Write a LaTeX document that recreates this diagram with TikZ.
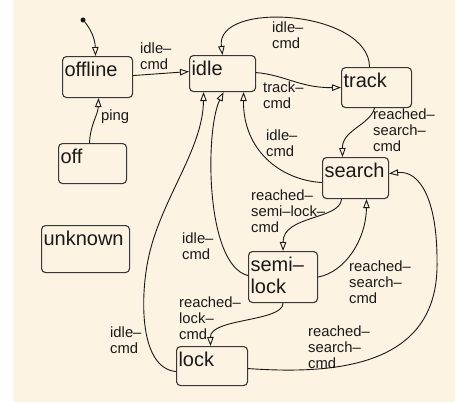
\documentclass[tikz,border=0pt]{standalone}
\usepackage{fontspec}
\setmainfont{Liberation Sans}
\usetikzlibrary{arrows.meta}
\definecolor{cream}{RGB}{253,243,226}
\definecolor{ink}{RGB}{25,25,25}
\definecolor{frame}{RGB}{55,55,55}
\newcommand\statefont{\fontsize{20}{22}\selectfont}
\newcommand\lblfont{\fontsize{14.8}{16}\selectfont}
\newcommand\stacklines[1]{\begin{tabular}[t]{@{}l@{}}#1\end{tabular}}
\begin{document}
\begin{tikzpicture}[x=1pt,y=-1pt,
  state/.style={draw=frame, line width=1.1pt, rounded corners=4pt, fill=cream,
    anchor=north west, inner xsep=2pt, inner ysep=0pt, text height=19.5pt,
    font=\statefont, text=ink},
  lbl/.style={anchor=base west, inner sep=0pt, font=\lblfont, text=ink},
  arr/.style={draw=ink, line width=0.9pt,
    -{Triangle[open, length=9pt, width=6.5pt, line width=0.9pt]}},
  initdot/.style={circle, fill=ink, inner sep=0pt, minimum size=5pt}]

% page and canvas
\useasboundingbox (0,0) rectangle (455,402);
\fill[white] (0,0) rectangle (455,402);
\fill[cream] (13,0) rectangle (455,402);

% states
\node[state, text depth=21.5pt] (offline) at (62,56)  {\makebox[66pt][l]{offline}};
\node[state, text depth=16.5pt] (idle)    at (189,55) {\makebox[62pt][l]{idle}};
\node[state, text depth=20.5pt] (track)   at (341,67) {\makebox[66pt][l]{track}};
\node[state, text depth=21.5pt] (search)  at (322,157){\makebox[62pt][l]{search}};
\node[state, text depth=20.5pt] (off)     at (58,143) {\makebox[64pt][l]{off}};
\node[state, text depth=27.5pt] (unknown) at (41,225) {\makebox[84pt][l]{unknown}};
\node[state, text depth=31.5pt] (semi)    at (248,251){\makebox[65pt][l]{\stacklines{semi–\\lock}}};
\node[state, text depth=19.5pt] (lock)    at (176,346){\makebox[67pt][l]{lock}};

% initial pseudo-state
\node[initdot] (init) at (83,20) {};

% transitions
\draw[arr] (init) .. controls (90,28) and (95,38) .. ([xshift=-2pt]offline.north);
\draw[arr] ([xshift=-3pt]off.north) .. controls (90,125) and (98,115) .. ([xshift=1pt]offline.south);
\draw[arr] ([yshift=1.5pt]offline.east) -- ([yshift=2pt]idle.west);
\draw[arr] ([yshift=1pt]idle.east) .. controls (285,75) and (300,88) .. (track.west);
\draw[arr] ([xshift=-7pt]track.north) .. controls (369,10) and (215,0) .. (idle.north);
\draw[arr] ([xshift=-2pt]track.south) .. controls (370,125) and (342,130) .. ([xshift=-13pt]search.north);
\draw[arr] ([yshift=-4.5pt]search.west) .. controls (280,180) and (243,150) .. ([xshift=21pt]idle.south);
\draw[arr] ([xshift=-14pt]search.south) .. controls (340,220) and (283,215) .. (semi.north);
\draw[arr] (semi.east) .. controls (345,272) and (366,240) .. ([xshift=11pt]search.south);
\draw[arr] ([yshift=1.5pt]semi.west) .. controls (205,265) and (205,130) .. ([xshift=1pt]idle.south);
\draw[arr] (semi.south) .. controls (283,322) and (210,318) .. ([xshift=-1.5pt]lock.north);
\draw[arr] ([yshift=-5.5pt]lock.west) .. controls (140,368) and (140,300) .. (148,260)
           .. controls (160,200) and (203,150) .. ([xshift=-19pt]idle.south);
\draw[arr] ([yshift=-2.5pt]lock.east) .. controls (340,375) and (440,365) .. (437,260)
           .. controls (437,200) and (420,170) .. ([yshift=4.5pt]search.east);

% transition labels
\node[lbl] (l-offidle)  at (140,53)  {\stacklines{idle–\\cmd}};
\node[lbl] (l-ping)     at (101,120) {ping};
\node[lbl] (l-trackidle) at (272,32) {\stacklines{idle–\\cmd}};
\node[lbl] (l-track)    at (263,92)  {\stacklines{track–\\cmd}};
\node[lbl] (l-tsearch)  at (373,119) {\stacklines{reached–\\search–\\cmd}};
\node[lbl] (l-sidle)    at (266,140) {\stacklines{idle–\\cmd}};
\node[lbl] (l-semi)     at (251,200) {\stacklines{reached–\\semi–lock–\\cmd}};
\node[lbl] (l-ssearch)  at (349,271) {\stacklines{reached–\\search–\\cmd}};
\node[lbl] (l-semiidle) at (182,243) {\stacklines{idle–\\cmd}};
\node[lbl] (l-lock)     at (179,307) {\stacklines{reached–\\lock–\\cmd}};
\node[lbl] (l-lockidle) at (110,337) {\stacklines{idle–\\cmd}};
\node[lbl] (l-lsearch)  at (308,336) {\stacklines{reached–\\search–\\cmd}};
\end{tikzpicture}
\end{document}
